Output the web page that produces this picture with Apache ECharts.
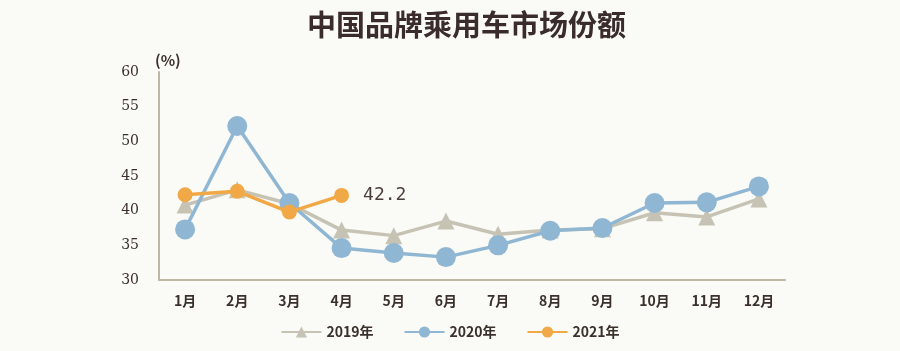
<!DOCTYPE html>
<html>
<head>
<meta charset="utf-8">
<script src="https://cdn.jsdelivr.net/npm/echarts@6/dist/echarts.min.js"></script>
<style>
  html, body { margin: 0; padding: 0; background: #fafaf6; }
  #chart { width: 900px; height: 351px; }
</style>
</head>
<body>
<div id="chart"></div>
<script>
const months = ['1月', '2月', '3月', '4月', '5月', '6月', '7月', '8月', '9月', '10月', '11月', '12月']
const share2019 = [40.8, 43.0, 41.0, 37.2, 36.4, 38.5, 36.6, 37.2, 37.4, 39.7, 39.1, 41.7]
const share2020 = [37.3, 52.2, 41.1, 34.6, 33.9, 33.3, 35.0, 37.1, 37.5, 41.1, 41.2, 43.5]
const share2021 = [42.3, 42.8, 39.8, 42.2]

const chart = echarts.init(document.getElementById('chart'))

const textColor = '#3b302c'
const fontFamily = '"Noto Sans CJK SC", "DejaVu Sans", sans-serif'

const option = {
  backgroundColor: '#fafaf6',
  title: {
    text: '中国品牌乘用车市场份额',
    left: 302,
    top: 5,
    textStyle: { color: '#3a2c2c', fontSize: 29, fontWeight: 'bold', fontFamily }
  },
  legend: {
    bottom: 7,
    left: 'center',
    itemWidth: 40,
    itemHeight: 14,
    itemGap: 30,
    textStyle: { color: textColor, fontSize: 14, fontFamily, fontWeight: 'bold' },
    data: ['2019年', '2020年', '2021年']
  },
  grid: { left: 159, right: 115, top: 72, bottom: 71 },
  xAxis: {
    type: 'category',
    data: months,
    boundaryGap: true,
    axisLine: { lineStyle: { color: '#bdb8a6', width: 2 } },
    axisTick: { show: false },
    axisLabel: { color: textColor, fontSize: 14, fontFamily, fontWeight: 'bold', margin: 14 }
  },
  yAxis: {
    type: 'value',
    min: 30,
    max: 60,
    interval: 5,
    name: '(%)',
    nameGap: 4,
    nameTextStyle: { color: textColor, fontSize: 15, fontWeight: 'bold', fontFamily, align: 'left', padding: [0, 0, 0, -4] },
    axisLine: { show: true, lineStyle: { color: '#bdb8a6', width: 2 } },
    axisTick: { show: false },
    splitLine: { show: false },
    axisLabel: { color: textColor, fontSize: 14, fontFamily: '"DejaVu Serif", serif', margin: 20 }
  },
  series: [
    {
      name: '2019年',
      type: 'line',
      data: share2019,
      symbol: 'triangle',
      symbolSize: 17,
      itemStyle: { color: '#c6c3b5' },
      lineStyle: { width: 3.5, color: '#c6c3b5' },
      z: 2
    },
    {
      name: '2020年',
      type: 'line',
      data: share2020,
      symbol: 'circle',
      symbolSize: 20,
      itemStyle: { color: '#8fb6d3' },
      lineStyle: { width: 3.5, color: '#8fb6d3' },
      z: 3
    },
    {
      name: '2021年',
      type: 'line',
      data: share2021,
      symbol: 'circle',
      symbolSize: 15,
      itemStyle: { color: '#f1a947' },
      lineStyle: { width: 3.5, color: '#f1a947' },
      label: {
        show: true,
        position: 'right',
        distance: 14,
        color: '#4a3f3a',
        fontSize: 18,
        fontFamily: '"DejaVu Sans Mono", monospace',
        formatter: (p) => (p.dataIndex === share2021.length - 1 ? p.value.toFixed(1) : '')
      },
      z: 4
    }
  ]
}

chart.setOption(option)
window.addEventListener('resize', () => chart.resize())
</script>
</body>
</html>
